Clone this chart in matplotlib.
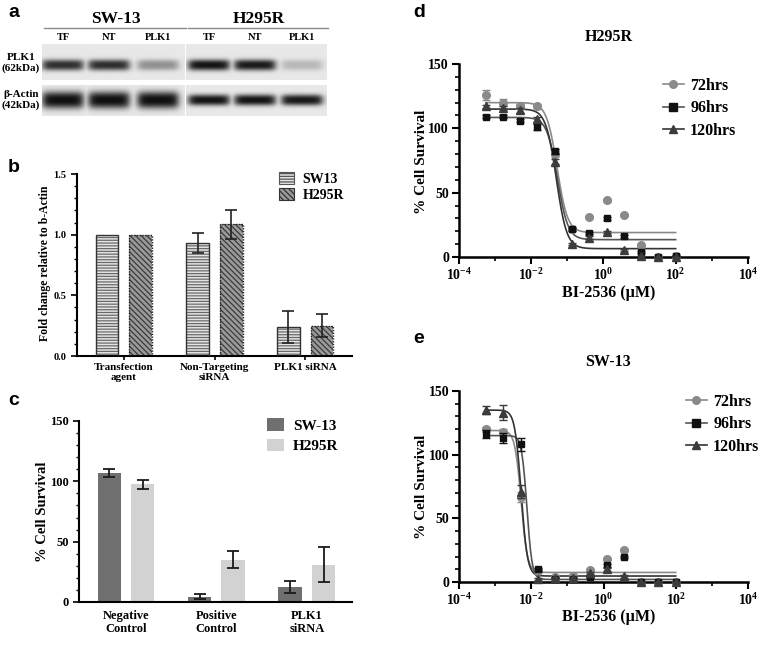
import numpy as np
import matplotlib
matplotlib.use('Agg')
import matplotlib.pyplot as plt
from matplotlib.patches import Patch
from matplotlib.lines import Line2D
from matplotlib.ticker import MultipleLocator, FixedLocator, NullFormatter, FixedFormatter

plt.rcParams['font.family'] = ['Liberation Serif', 'DejaVu Serif']
plt.rcParams['font.weight'] = 'bold'
plt.rcParams['mathtext.fontset'] = 'custom'
plt.rcParams['mathtext.rm'] = 'Liberation Serif:bold'
plt.rcParams['mathtext.bf'] = 'Liberation Serif:bold'
plt.rcParams['mathtext.it'] = 'Liberation Serif:bold:italic'
plt.rcParams['hatch.linewidth'] = 0.9

# ---------------- data ----------------
blot_groups = ['SW-13', 'H295R']
blot_lanes = ['TF', 'NT', 'PLK1']
plk1_band_sw13 = [0.85, 0.86, 0.40]
plk1_band_h295r = [0.98, 0.95, 0.22]
actin_band_sw13 = [1.0, 1.0, 1.0]
actin_band_h295r = [0.98, 0.98, 0.96]

b_categories = ['Transfection\nagent', 'Non-Targeting\nsiRNA', 'PLK1 siRNA']
b_sw13 = [1.0, 0.93, 0.24]
b_sw13_err = [0.0, 0.085, 0.13]
b_h295r = [1.0, 1.085, 0.25]
b_h295r_err = [0.0, 0.12, 0.095]

c_categories = ['Negative\nControl', 'Positive\nControl', 'PLK1\nsiRNA']
c_sw13 = [107, 4.5, 12.5]
c_sw13_err = [3, 2, 5]
c_h295r = [97.5, 35, 31]
c_h295r_err = [3.5, 7, 14.5]

dose_um = [0.00056, 0.0017, 0.0051, 0.015, 0.046, 0.14, 0.41, 1.23, 3.7, 11.1, 33.3, 100.0]
series_labels = ['72hrs', '96hrs', '120hrs']

d_72 = [126, 120, 117, 117, 80, 22, 31, 44, 32.5, 9, 0, 1]
d_72_err = [4, 3, 2, 2, 2, 1, 1, 1, 1, 1, 0, 0]
d_96 = [109, 109, 106, 101, 82, 21.5, 18.5, 30, 16, 4, 0, 1]
d_96_err = [1, 1, 1, 2, 2, 1, 1, 1, 1, 1, 0, 0]
d_120 = [117, 116, 114, 107, 74, 10, 15, 19.5, 5.5, 0.5, 0, 0]
d_120_err = [1, 1, 2, 2, 2, 1, 1, 1, 1, 0, 0, 0]
# fitted 4PL parameters (top, bottom, logIC50, hill)
d_fit_top = [120, 108.5, 115]
d_fit_bottom = [19, 13.5, 6.5]
d_fit_logic50 = [-1.28, -1.27, -1.30]
d_fit_hill = [3.0, 3.0, 3.0]

e_72 = [120, 118, 67, 9, 4, 5, 9.5, 18, 25, 0, 0, 0]
e_72_err = [2, 2, 4, 1, 1, 1, 1, 1, 1, 0, 0, 0]
e_96 = [116, 113, 108, 10, 2, 2, 4, 13, 19.5, 0, 0, 0]
e_96_err = [3, 4, 5, 1, 1, 1, 1, 1, 1, 0, 0, 0]
e_120 = [135, 133, 71, 2.5, 3, 3, 7, 10, 4.5, 0, 0, 0]
e_120_err = [3, 6, 5, 1, 1, 1, 1, 1, 1, 0, 0, 0]
e_fit_top = [119, 115, 135]
e_fit_bottom = [7.5, 2.0, 4.7]
e_fit_logic50 = [-2.28, -2.12, -2.28]
e_fit_hill = [5.0, 6.0, 5.0]

# ---------------- figure ----------------
W, H = 784, 646
fig = plt.figure(figsize=(W / 100, H / 100), dpi=100)


def px_axes(l, t, r, b):
    return fig.add_axes([l / W, 1 - b / H, (r - l) / W, (b - t) / H])


def ftext(x, y, s, **kw):
    return fig.text(x / W, 1 - y / H, s, **kw)


# panel letters
for letter, (lx, ly) in zip('abcde', [(8, 17), (8, 172), (8, 405), (413, 17), (413, 343)]):
    ftext(lx, ly, letter, family='Liberation Sans', fontweight='bold', fontsize=14, va='baseline')

# ---------------- panel a: western blot ----------------
axa = px_axes(0, 0, 400, 130)
axa.axis('off')

group_x = [(42, 185), (186, 327)]
lane_centers = [[63, 109, 158], [209, 255, 302]]
row_y = [(44, 80), (85, 116)]
row_band_center = [65, 100]
band_sigma = {('plk', 0): 5.5, ('plk', 1): 5.5, ('act', 0): 8.5, ('act', 1): 5.5}
intens = {('plk', 0): plk1_band_sw13, ('plk', 1): plk1_band_h295r,
          ('act', 0): actin_band_sw13, ('act', 1): actin_band_h295r}


def blot_img(x0, x1, y0, y1, centers, ints, yc, sig, bw=40):
    sc = 4
    w = int((x1 - x0) * sc)
    h = int((y1 - y0) * sc)
    xs = x0 + (np.arange(w) + 0.5) / sc
    ys = y0 + (np.arange(h) + 0.5) / sc
    X, Y = np.meshgrid(xs, ys)
    dark = np.zeros_like(X)
    for cx, I in zip(centers, ints):
        hx = 1 / (1 + np.exp((np.abs(X - cx) - bw / 2) / 2.2))
        vy = np.exp(-(np.abs(Y - yc) / sig) ** 2.6)
        dark = np.maximum(dark, I * hx * vy)
    bg = 0.91
    return bg - (bg - 0.06) * dark


for ri, key in enumerate(['plk', 'act']):
    for gi in range(2):
        x0, x1 = group_x[gi]
        y0, y1 = row_y[ri]
        img = blot_img(x0, x1, y0, y1, lane_centers[gi], intens[(key, gi)],
                       row_band_center[ri], band_sigma[(key, gi)])
        axa.imshow(img, extent=(x0, x1, y1, y0), cmap='gray', vmin=0, vmax=1,
                   interpolation='bilinear', aspect='auto', zorder=1)

for gi, g in enumerate(blot_groups):
    x0, x1 = group_x[gi]
    axa.text((x0 + x1) / 2 + 2, 19, g, ha='center', va='center', fontsize=12.5, fontweight='bold')
    axa.plot([x0 + 2, x1 + 1], [27.5, 27.5], color='#8a8a8a', lw=1.0)
    for cx, ln in zip(lane_centers[gi], blot_lanes):
        axa.text(cx, 37.5, ln, ha='center', va='center', fontsize=7.5, fontweight='bold')
axa.text(21, 63, 'PLK1\n(62kDa)', ha='center', va='center', fontsize=8, fontweight='bold',
         linespacing=1.25)
axa.text(21, 100, 'β-Actin\n(42kDa)', ha='center', va='center', fontsize=8, fontweight='bold',
         linespacing=1.25)
axa.set_xlim(0, 400)
axa.set_ylim(130, 0)


def style_axes(ax, lw=1.5):
    for s in ['top', 'right']:
        ax.spines[s].set_visible(False)
    for s in ['left', 'bottom']:
        ax.spines[s].set_linewidth(lw)
    ax.tick_params(which='major', direction='out', length=4, width=1.2)
    ax.tick_params(which='minor', direction='out', length=2, width=1.0)


# ---------------- panel b ----------------
axb = px_axes(77, 174, 352, 356)
xb = np.arange(len(b_categories))
bw = 0.25
off = 0.185
axb.bar(xb - off, b_sw13, bw, color='#e4e4e4', edgecolor='#6a6a6a', hatch='------', lw=0, zorder=2)
axb.bar(xb - off, b_sw13, bw, fill=False, edgecolor='#333333', lw=1.0, zorder=3)
axb.bar(xb + off, b_h295r, bw, color='#9a9a9a', edgecolor='#3a3a3a', hatch='\\\\\\\\\\\\', lw=0, zorder=2)
axb.bar(xb + off, b_h295r, bw, fill=False, edgecolor='#222222', lw=1.0, ls=(0, (1, 1)), zorder=3)
for xs, vals, errs in [(xb - off, b_sw13, b_sw13_err), (xb + off, b_h295r, b_h295r_err)]:
    m = np.array(errs) > 0
    axb.errorbar(np.array(xs)[m], np.array(vals)[m], yerr=np.array(errs)[m], fmt='none',
                 ecolor='#222222', elinewidth=1.2, capsize=4, capthick=1.2, zorder=4)
axb.set_xlim(-0.516, 2.516)
axb.set_ylim(0, 1.5)
axb.set_xticks(xb)
axb.set_xticklabels(b_categories, fontsize=8, linespacing=1.1)
axb.set_yticks([0, 0.5, 1.0, 1.5])
axb.set_yticklabels(['0.0', '0.5', '1.0', '1.5'], fontsize=7.5)
axb.yaxis.set_minor_locator(MultipleLocator(0.1))
style_axes(axb)
axb.tick_params(axis='x', length=3, pad=2)
ftext(45, 263, 'Fold change relative to b-Actin', rotation=90, ha='center', va='center',
      fontsize=8.5, fontweight='bold')
hb = [Patch(facecolor='#e4e4e4', edgecolor='#555555', hatch='------', lw=0.8, label='SW13'),
      Patch(facecolor='#9a9a9a', edgecolor='#333333', hatch='\\\\\\\\\\\\', lw=0.8, label='H295R')]
axb.legend(handles=hb, loc='upper left', bbox_to_anchor=(279 / W, 1 - 172 / H),
           bbox_transform=fig.transFigure, frameon=False, fontsize=10, handlelength=1.1,
           handleheight=0.9, handletextpad=0.6, labelspacing=0.2, borderpad=0, borderaxespad=0)

# ---------------- panel c ----------------
axc = px_axes(79, 421, 352, 602)
xc = np.arange(len(c_categories))
cw = 0.26
axc.bar(xc - off, c_sw13, cw, color='#6f6f6f', lw=0, zorder=2)
axc.bar(xc + off, c_h295r, cw, color='#d2d2d2', lw=0, zorder=2)
axc.errorbar(xc - off, c_sw13, yerr=c_sw13_err, fmt='none', ecolor='#1a1a1a', elinewidth=1.3,
             capsize=4.5, capthick=1.3, zorder=4)
axc.errorbar(xc + off, c_h295r, yerr=c_h295r_err, fmt='none', ecolor='#1a1a1a', elinewidth=1.3,
             capsize=4.5, capthick=1.3, zorder=4)
axc.set_xlim(-0.52, 2.5)
axc.set_ylim(0, 150)
axc.set_xticks(xc)
axc.set_xticklabels(c_categories, fontsize=9, linespacing=1.1)
axc.set_yticks([0, 50, 100, 150])
axc.tick_params(axis='y', labelsize=9)
axc.yaxis.set_minor_locator(MultipleLocator(10))
style_axes(axc)
axc.tick_params(axis='x', length=0, pad=6)
ftext(43, 512, '% Cell Survival', rotation=90, ha='center', va='center', fontsize=10.5,
      fontweight='bold')
hc = [Patch(facecolor='#6f6f6f', lw=0, label='SW-13'),
      Patch(facecolor='#d2d2d2', lw=0, label='H295R')]
axc.legend(handles=hc, loc='upper left', bbox_to_anchor=(267 / W, 1 - 418 / H),
           bbox_transform=fig.transFigure, frameon=False, fontsize=11, handlelength=1.1,
           handleheight=0.9, handletextpad=0.6, labelspacing=0.4, borderpad=0, borderaxespad=0)

# ---------------- panels d & e ----------------
pt_colors = ['#8a8a8a', '#111111', '#3c3c3c']
line_colors = ['#8a8a8a', '#555555', '#333333']
markers = ['o', 's', '^']


def dose_panel(rect, title, title_y, xlabel_y, ylabel_y, series, errs, tops, bots, ics, hills,
               leg_anchor):
    ax = px_axes(*rect)
    ax.set_xscale('log')
    logd = np.log10(dose_um)
    xx = np.linspace(logd.min(), logd.max(), 300)
    for i in range(3):
        yy = bots[i] + (tops[i] - bots[i]) / (1 + 10 ** ((xx - ics[i]) * hills[i]))
        ax.plot(10 ** xx, yy, color=line_colors[i], lw=1.2, zorder=2)
    for i in range(3):
        ax.errorbar(dose_um, series[i], yerr=errs[i], fmt=markers[i], color=pt_colors[i],
                    ms=5.5 if markers[i] != 's' else 5, mec=pt_colors[i], ecolor=pt_colors[i],
                    elinewidth=1.0, capsize=3, capthick=1.0, zorder=3 + i, clip_on=False)
    ax.set_xlim(1e-4, 1e4)
    ax.set_ylim(0, 150)
    ax.xaxis.set_major_locator(FixedLocator([1e-4, 1e-2, 1e0, 1e2, 1e4]))
    ax.xaxis.set_major_formatter(FixedFormatter([r'$10^{-4}$', r'$10^{-2}$', r'$10^{0}$',
                                                 r'$10^{2}$', r'$10^{4}$']))
    ax.xaxis.set_minor_locator(FixedLocator([1e-3, 1e-1, 1e1, 1e3]))
    ax.xaxis.set_minor_formatter(NullFormatter())
    ax.set_yticks([0, 50, 100, 150])
    ax.yaxis.set_minor_locator(MultipleLocator(10))
    ax.tick_params(labelsize=10)
    style_axes(ax, lw=1.8)
    ax.tick_params(which='major', length=5, width=1.5, pad=2)
    ax.tick_params(which='minor', length=3, width=1.2)
    l, t, r, b = rect
    cx = (l + r) / 2 + 5
    ftext(cx, title_y, title, ha='center', va='center', fontsize=11.5, fontweight='bold')
    ftext(cx, xlabel_y, 'BI-2536 (µM)', ha='center', va='center', fontsize=11.5, fontweight='bold')
    ftext(422, ylabel_y, '% Cell Survival', rotation=90, ha='center', va='center', fontsize=11,
          fontweight='bold')
    handles = [Line2D([], [], color=line_colors[i], marker=markers[i], mfc=pt_colors[i],
                      mec=pt_colors[i], ms=5.5, lw=1.2, label=series_labels[i]) for i in range(3)]
    ax.legend(handles=handles, loc='upper left', bbox_to_anchor=(leg_anchor[0] / W, 1 - leg_anchor[1] / H),
              bbox_transform=fig.transFigure, frameon=False, fontsize=11.5, handlelength=1.3,
              handletextpad=0.4, labelspacing=0.4, borderpad=0, borderaxespad=0)
    return ax


dose_panel((458.7, 64, 748, 257), 'H295R', 37, 293, 162,
           [d_72, d_96, d_120], [d_72_err, d_96_err, d_120_err],
           d_fit_top, d_fit_bottom, d_fit_logic50, d_fit_hill, (663, 78))
dose_panel((459, 391, 748, 582), 'SW-13', 362, 617, 487,
           [e_72, e_96, e_120], [e_72_err, e_96_err, e_120_err],
           e_fit_top, e_fit_bottom, e_fit_logic50, e_fit_hill, (686, 394))

fig.savefig('out.png', dpi=100)
